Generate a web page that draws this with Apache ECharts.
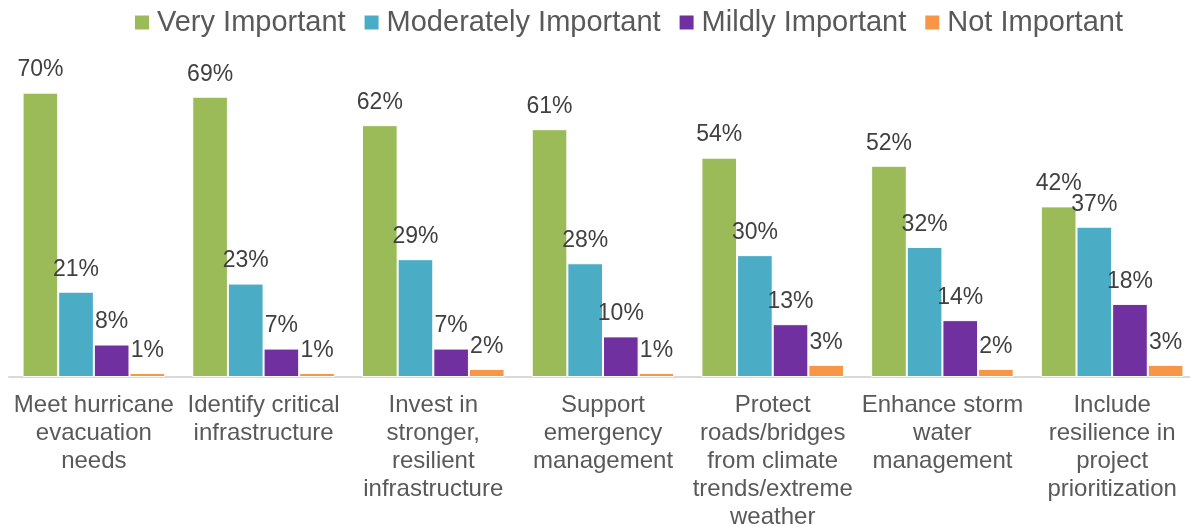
<!DOCTYPE html>
<html>
<head>
<meta charset="utf-8">
<script src="https://cdn.jsdelivr.net/npm/echarts@6/dist/echarts.min.js"></script>
<style>
  html, body { margin: 0; padding: 0; background: #fff; }
  #chart { width: 1190px; height: 527px; }
</style>
</head>
<body>
<div id="chart"></div>
<script>
// categories (line breaks as in the original wrapped labels)
var categories = [
  'Meet hurricane\nevacuation\nneeds',
  'Identify critical\ninfrastructure',
  'Invest in\nstronger,\nresilient\ninfrastructure',
  'Support\nemergency\nmanagement',
  'Protect\nroads/bridges\nfrom climate\ntrends/extreme\nweather',
  'Enhance storm\nwater\nmanagement',
  'Include\nresilience in\nproject\nprioritization'
];
var seriesNames = ['Very Important', 'Moderately Important', 'Mildly Important', 'Not Important'];
var veryImportant = [70, 69, 62, 61, 54, 52, 42];
var moderatelyImportant = [21, 23, 29, 28, 30, 32, 37];
var mildlyImportant = [8, 7, 7, 10, 13, 14, 18];
var notImportant = [1, 1, 2, 1, 3, 2, 3];

var colors = ['#9BBB59', '#4BACC6', '#7030A0', '#F79646'];
var values = [veryImportant, moderatelyImportant, mildlyImportant, notImportant];

var chart = echarts.init(document.getElementById('chart'));

var series = seriesNames.map(function (name, i) {
  return {
    name: name,
    type: 'bar',
    data: values[i],
    barGap: 0,
    barCategoryGap: '16%',
    itemStyle: {
      color: colors[i],
      borderColor: '#fff',
      borderWidth: 1
    },
    label: {
      show: true,
      position: 'top',
      distance: 11,
      formatter: '{c}%',
      color: '#404040',
      fontSize: 23,
      fontFamily: 'Liberation Sans'
    }
  };
});

chart.setOption({
  animation: false,
  color: colors,
  legend: {
    top: 3,
    left: 128,
    itemWidth: 16,
    itemHeight: 16,
    itemGap: 17,
    icon: 'rect',
    textStyle: {
      color: '#595959',
      fontSize: 29,
      fontFamily: 'Liberation Sans',
      padding: [0, 0, 0, 2]
    },
    data: seriesNames
  },
  grid: {
    left: 9,
    width: 1188,
    top: 52,
    bottom: 150,
    containLabel: false,
    outerBoundsMode: 'none'
  },
  xAxis: {
    type: 'category',
    data: categories,
    axisLine: {
      lineStyle: { color: '#d9d9d9', width: 2 }
    },
    axisTick: { show: false },
    axisLabel: {
      interval: 0,
      margin: 14,
      color: '#595959',
      fontSize: 24,
      lineHeight: 28,
      fontFamily: 'Liberation Sans'
    }
  },
  yAxis: {
    type: 'value',
    min: 0,
    max: 80,
    show: false,
    splitLine: { show: false }
  },
  series: series
});
</script>
</body>
</html>
